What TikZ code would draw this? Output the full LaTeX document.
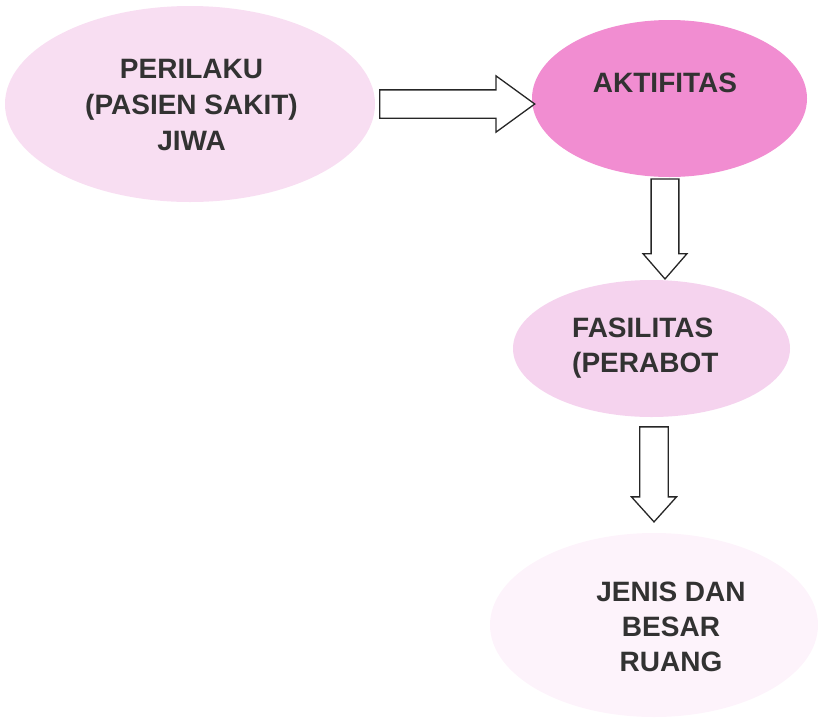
\documentclass[tikz,border=0pt]{standalone}
\usepackage{fontspec}
\setmainfont{Liberation Sans}
\usetikzlibrary{shapes.geometric,shapes.arrows}

\definecolor{bubbleA}{RGB}{248,222,242}
\definecolor{bubbleB}{RGB}{241,141,209}
\definecolor{bubbleC}{RGB}{245,211,238}
\definecolor{bubbleD}{RGB}{253,243,251}
\definecolor{labelgray}{RGB}{50,50,50}

\tikzset{
  bubble/.style={ellipse, draw=none, inner sep=0pt},
  caption/.style={font=\fontsize{28}{35}\selectfont\bfseries, text=labelgray, inner sep=0pt},
  blockarrow/.style={single arrow, draw=black!85, line width=1.3pt, fill=white,
    inner sep=0pt, outer sep=0pt},
}

\begin{document}
\begin{tikzpicture}[x=1pt, y=-1pt]
  \useasboundingbox (0,0) rectangle (823,721);

  % ellipses
  \node[bubble, fill=bubbleA, minimum width=370pt, minimum height=196pt] (perilaku) at (190,104) {};
  \node[bubble, fill=bubbleB, minimum width=275pt, minimum height=157pt] (aktifitas) at (669.5,98.5) {};
  \node[bubble, fill=bubbleC, minimum width=277pt, minimum height=137pt] (fasilitas) at (651.5,348.5) {};
  \node[bubble, fill=bubbleD, minimum width=328pt, minimum height=184pt] (ruang) at (654,625) {};

  % labels
  \node[caption, align=center, font=\fontsize{28}{36}\selectfont\bfseries] (tperilaku) at (191.5,105) {PERILAKU\\(PASIEN SAKIT)\\JIWA};
  \node[caption] (taktifitas) at (665,83) {AKTIFITAS};
  \node[caption, align=left, anchor=west] (tfasilitas) at (572,348) {FASILITAS\\(PERABOT};
  \node[caption, align=center] (truang) at (671,627) {JENIS DAN\\BESAR\\RUANG};

  % block arrows between the ellipses
  \node[blockarrow, minimum height=155pt, minimum width=55pt,
        single arrow head extend=14pt, single arrow tip angle=72,
        text width=0pt, text height=27pt] (a1) at (447.5,104) {};
  \node[blockarrow, shape border rotate=270, minimum height=100pt, minimum width=44pt,
        single arrow tip angle=82,
        text width=23pt, text height=0pt] (a2) at (665,221) {};
  \node[blockarrow, shape border rotate=270, minimum height=95pt, minimum width=45pt,
        single arrow tip angle=84,
        text width=23pt, text height=0pt] (a3) at (654,466.5) {};
\end{tikzpicture}
\end{document}
